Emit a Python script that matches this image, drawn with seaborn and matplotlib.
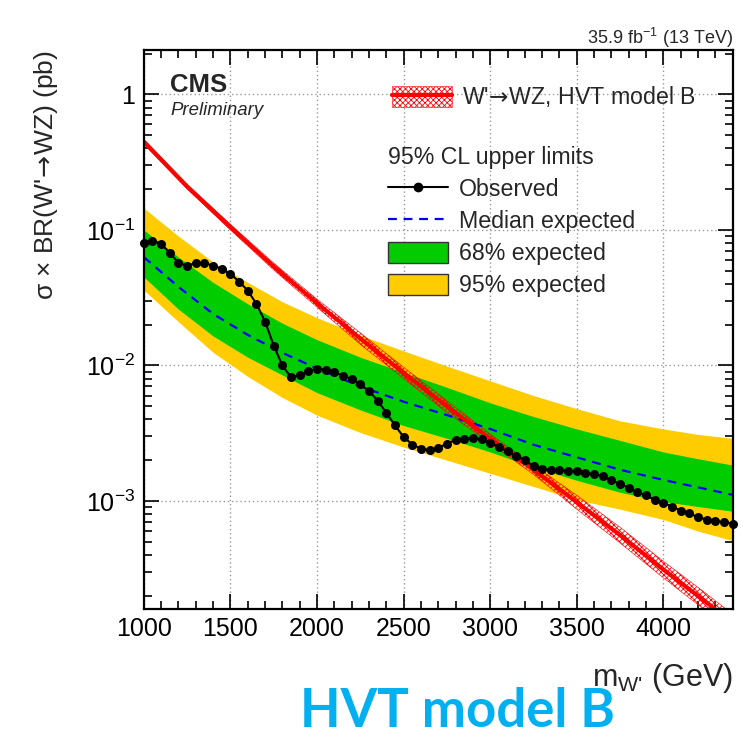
import math

import matplotlib
matplotlib.use('Agg')
import matplotlib.pyplot as plt
import pandas as pd
import seaborn as sns
from matplotlib.legend_handler import HandlerTuple
from matplotlib.lines import Line2D
from matplotlib.patches import Patch
from matplotlib.ticker import FuncFormatter, LogLocator, MultipleLocator, NullFormatter

# observed limit, one point every 50 GeV
mass_obs = [1000, 1050, 1100, 1150, 1200, 1250, 1300, 1350, 1400, 1450,
            1500, 1550, 1600, 1650, 1700, 1750, 1800, 1850, 1900, 1950,
            2000, 2050, 2100, 2150, 2200, 2250, 2300, 2350, 2400, 2450,
            2500, 2550, 2600, 2650, 2700, 2750, 2800, 2850, 2900, 2950,
            3000, 3050, 3100, 3150, 3200, 3250, 3300, 3350, 3400, 3450,
            3500, 3550, 3600, 3650, 3700, 3750, 3800, 3850, 3900, 3950,
            4000, 4050, 4100, 4150, 4200, 4250, 4300, 4350, 4400]
limit_obs = [0.0806, 0.0834, 0.0785, 0.0680, 0.0569, 0.0546, 0.0569, 0.0569, 0.0546, 0.0516,
             0.0474, 0.0416, 0.0357, 0.0285, 0.0211, 0.0140, 0.0100, 0.00817, 0.00849, 0.0091,
             0.00946, 0.00929, 0.00889, 0.0084, 0.00794, 0.00724, 0.00648, 0.0055, 0.00448, 0.00361,
             0.00297, 0.00261, 0.00243, 0.00238, 0.00246, 0.00265, 0.00283, 0.00288, 0.00290, 0.00285,
             0.00268, 0.00251, 0.00232, 0.00216, 0.00199, 0.00180, 0.00172, 0.00170, 0.00168, 0.00167,
             0.00166, 0.00161, 0.00158, 0.00152, 0.00142, 0.00134, 0.00125, 0.00116, 0.00110, 0.00102,
             0.00097, 0.00091, 0.00085, 0.00081, 0.00076, 0.00073, 0.00071, 0.00070, 0.00068]

# expected limit and bands
mass_exp = [1000, 1200, 1400, 1600, 1800, 2000, 2250, 2500, 2750, 3000, 3250, 3500, 3750, 4000, 4200, 4400]
exp_median = [0.063, 0.038, 0.024, 0.0168, 0.0124, 0.0095, 0.0070, 0.0054, 0.0043, 0.0034,
              0.0026, 0.0021, 0.0017, 0.00143, 0.00126, 0.00111]
exp_up1 = [0.100, 0.063, 0.041, 0.0285, 0.0205, 0.0155, 0.0115, 0.0089, 0.0069, 0.0053,
           0.0042, 0.0034, 0.0028, 0.0023, 0.00205, 0.00184]
exp_dn1 = [0.045, 0.026, 0.0165, 0.0115, 0.0085, 0.0063, 0.0047, 0.0036, 0.0029, 0.0023,
           0.00178, 0.00142, 0.00116, 0.00099, 0.00091, 0.00084]
exp_up2 = [0.145, 0.090, 0.058, 0.041, 0.0295, 0.0225, 0.0167, 0.0128, 0.0099, 0.0077,
           0.0060, 0.0048, 0.0039, 0.0034, 0.0031, 0.0029]
exp_dn2 = [0.036, 0.021, 0.0125, 0.0083, 0.0058, 0.0043, 0.0032, 0.0025, 0.0020, 0.0016,
           0.00128, 0.00102, 0.00087, 0.00073, 0.00060, 0.00051]

# HVT model B theory cross section
mass_th = [1000, 1250, 1500, 1750, 2000, 2250, 2500, 2750, 3000, 3250, 3500, 3750, 4000, 4250, 4400]
xsec_th = [0.448, 0.209, 0.105, 0.0537, 0.0288, 0.0158, 0.0088, 0.0050, 0.00288, 0.0017,
           0.00098, 0.00056, 0.000312, 0.000178, 0.000126]
xsec_th_lo = [0.431, 0.201, 0.100, 0.0506, 0.0269, 0.0143, 0.0080, 0.0045, 0.00266, 0.00157,
              0.00087, 0.00049, 0.000271, 0.000153, 0.000108]
xsec_th_hi = [0.466, 0.217, 0.110, 0.0569, 0.0308, 0.0174, 0.0097, 0.0055, 0.00311, 0.00184,
              0.00110, 0.00064, 0.000359, 0.000206, 0.000146]

sns.set_theme(style='ticks')
plt.rcParams['font.family'] = ['Liberation Sans', 'DejaVu Sans']
plt.rcParams['mathtext.fontset'] = 'custom'
plt.rcParams['mathtext.rm'] = 'Liberation Sans'
plt.rcParams['mathtext.it'] = 'Liberation Sans:italic'
plt.rcParams['mathtext.sf'] = 'DejaVu Sans'
plt.rcParams['hatch.linewidth'] = 0.6

GREEN = '#00CC00'
YELLOW = '#FFCC00'
HATCH = 'xxxxxx'
ARROW = r'$\!\mathsf{\rightarrow}\!$'

fig = plt.figure(figsize=(7.53, 7.38), dpi=100)
ax = fig.add_axes([0.191, 0.175, 0.782, 0.757])

ax.fill_between(mass_exp, exp_dn2, exp_up2, color=YELLOW, lw=0)
ax.fill_between(mass_exp, exp_dn1, exp_up1, color=GREEN, lw=0)
sns.lineplot(x=mass_exp, y=exp_median, ax=ax, color='blue', lw=1.6,
             linestyle=(0, (4, 3)), legend=False)

ax.fill_between(mass_th, xsec_th_lo, xsec_th_hi, facecolor='none', edgecolor='red',
                hatch=HATCH, lw=0.4)
sns.lineplot(x=mass_th, y=xsec_th, ax=ax, color='red', lw=3, legend=False)

obs = pd.DataFrame({'mass': mass_obs, 'limit': limit_obs})
sns.lineplot(data=obs, x='mass', y='limit', ax=ax, color='black', lw=1.5,
             marker='o', markersize=6.5, markeredgewidth=0, legend=False, clip_on=False)

ax.set_yscale('log')
ax.set_xlim(1000, 4400)
ax.set_ylim(1.6e-4, 2.12)

ax.xaxis.set_major_locator(MultipleLocator(500))
ax.xaxis.set_minor_locator(MultipleLocator(100))
ax.yaxis.set_major_locator(LogLocator(base=10, numticks=10))
ax.yaxis.set_minor_locator(LogLocator(base=10, subs=range(2, 10), numticks=20))
ax.yaxis.set_minor_formatter(NullFormatter())
ax.yaxis.set_major_formatter(FuncFormatter(
    lambda v, _: '1' if abs(v - 1) < 1e-9 else r'$\mathregular{10^{%d}}$' % round(math.log10(v))))

ax.tick_params(which='both', direction='in', top=True, right=True, width=1.2, colors='black')
ax.tick_params(which='major', length=11, labelsize=18, pad=6)
ax.tick_params(which='minor', length=5.5)
for s in ax.spines.values():
    s.set_linewidth(1.6)
    s.set_color('black')
ax.grid(which='major', color='#999999', linestyle=(0, (1, 2)), lw=1)

ax.set_xlabel(r"m$_{\text{W'}}$ (GeV)", fontsize=22, loc='right')
ax.xaxis.set_label_coords(1.0, -0.094)
ax.set_ylabel("σ × BR(W'" + ARROW + "WZ) (pb)", fontsize=19, loc='top')
ax.yaxis.set_label_coords(-0.143, 1.0)

ax.text(0.045, 0.925, 'CMS', transform=ax.transAxes, fontsize=18.5, fontweight='bold', va='baseline')
ax.text(0.045, 0.884, 'Preliminary', transform=ax.transAxes, fontsize=13.4, style='italic', va='baseline')
ax.text(1.0, 1.0, r'35.9 fb$^{\mathregular{-1}}$ (13 TeV)', transform=ax.transAxes,
        fontsize=13, ha='right', va='bottom')

th_patch = Patch(facecolor='white', edgecolor='red', hatch=HATCH, lw=0.4)
th_line = Line2D([], [], color='red', lw=3)
leg1 = ax.legend([(th_patch, th_line)], ["W'" + ARROW + "WZ, HVT model B"],
                 handler_map={tuple: HandlerTuple(ndivide=1, pad=0)},
                 loc='upper left', bbox_to_anchor=(0.421, 0.939), frameon=False,
                 fontsize=16.7, handlelength=2.6, handleheight=1.0, handletextpad=0.45,
                 borderpad=0, borderaxespad=0)
ax.add_artist(leg1)

handles = [
    Line2D([], [], color='black', lw=1.5, marker='o', markersize=6),
    Line2D([], [], color='blue', lw=1.6, linestyle=(0, (4, 3))),
    Patch(facecolor=GREEN, edgecolor='#333333', lw=1),
    Patch(facecolor=YELLOW, edgecolor='#333333', lw=1),
]
labels = ['Observed', 'Median expected', '68% expected', '95% expected']
ax.legend(handles, labels, title='95% CL upper limits', alignment='left',
          loc='upper left', bbox_to_anchor=(0.415, 0.828), frameon=False,
          fontsize=16.7, title_fontsize=16.7, handlelength=2.6, handleheight=1.05,
          handletextpad=0.45, labelspacing=0.36, borderpad=0, borderaxespad=0)

fig.text(0.607, 0.015, 'HVT model B', color='#00B0F0', fontsize=38, fontweight='bold',
         family=['Lato', 'DejaVu Sans'], ha='center', va='baseline')

fig.savefig('out.png', dpi=100)
plt.close(fig)
